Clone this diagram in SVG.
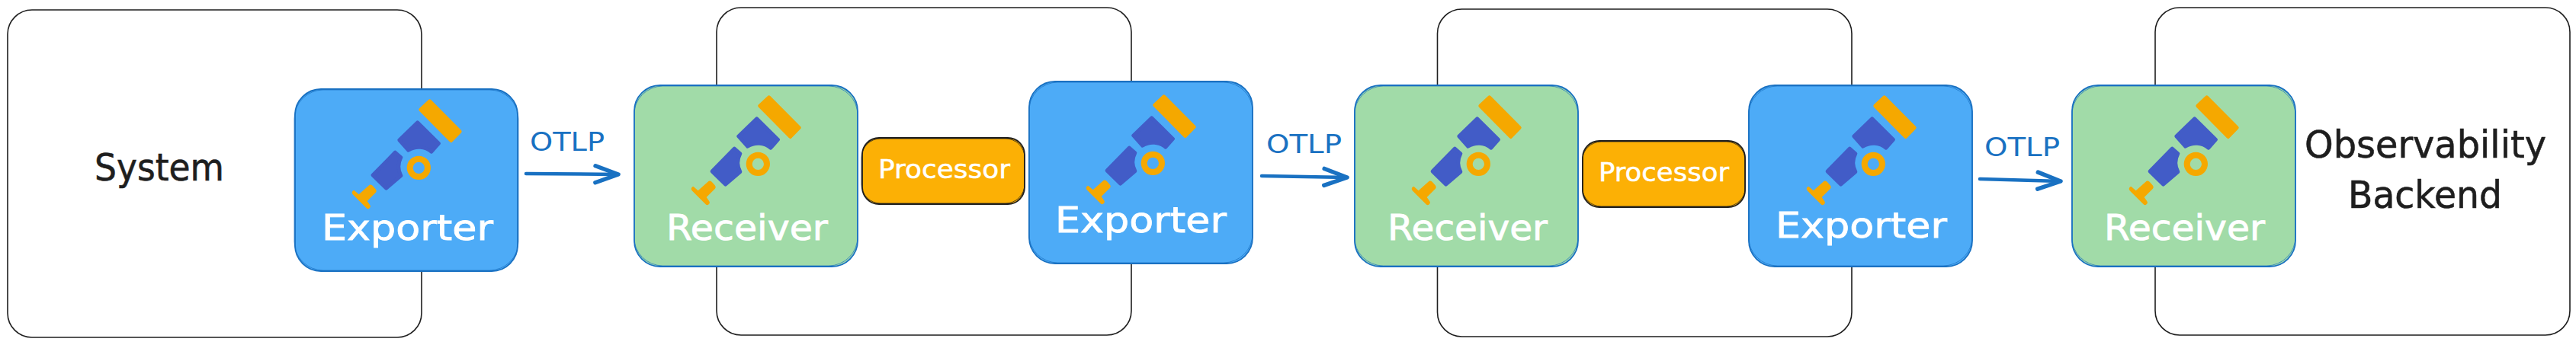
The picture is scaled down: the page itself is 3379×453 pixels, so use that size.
<svg xmlns="http://www.w3.org/2000/svg" xmlns:xlink="http://www.w3.org/1999/xlink" width="3379" height="453" viewBox="0 0 3379 453">
<style>
.outer{fill:#fff;stroke:#1e1e1e;stroke-width:1.6}
.sk{fill:none;stroke-width:1}
.exp{fill:#4dabf7;stroke:#1971c2;stroke-width:1.8}
.rec{fill:#a1dba8;stroke:#1971c2;stroke-width:1.8}
.skb{stroke:#1971c2;opacity:.7}
.skd{stroke:#1e1e1e;opacity:.75}
.proc{fill:#fcb005;stroke:#1e1e1e;stroke-width:1.8}
text{font-family:"DejaVu Sans","Liberation Sans",sans-serif}
.w{fill:#fff;font-size:47px;stroke:#fff;stroke-width:.8}
.p{fill:#fff;font-size:34px;stroke:#fff;stroke-width:.5}
.d{fill:#1e1e1e;font-size:49px;stroke:#1e1e1e;stroke-width:.6}
.o{fill:#1971c2;font-size:34px}
.conn{fill:none;stroke:#1971c2;stroke-width:4.5;stroke-linecap:round}
.io{fill:#f5a800;stroke:#f5a800;stroke-width:14;stroke-linejoin:round}
.ib{fill:#425cc7;stroke:#425cc7;stroke-width:14;stroke-linejoin:round}
</style>
<defs>
<marker id="head" markerUnits="userSpaceOnUse" markerWidth="40" markerHeight="32" refX="33" refY="15" orient="auto" overflow="visible">
<path d="M3 4 L33 15 L3 26" fill="none" stroke="#1971c2" stroke-width="5.5" stroke-linecap="round" stroke-linejoin="round"/>
</marker>
<g id="icon" transform="scale(.33333) translate(-246,-90)">
<path class="io" d="M551 98 L670 218 L635 254 L515 132 Z"/>
<path class="ib" d="M503 182 L587 265 L558 298 A78 78 0 0 0 467 292 L431 252 Z"/>
<path class="ib" d="M415 300 L438 320 A78 78 0 0 0 438 392 L380 442 L327 390 Z"/>
<circle cx="508" cy="361" r="35" fill="none" stroke="#f5a800" stroke-width="24"/>
<path d="M254 450 L272 466 L314 428 Q320 426 326 431 L338 445 Q344 452 338 459 L305 492 L316 508 Q320 515 314 520 Q308 526 302 520 L248 466 Q243 460 247 454 Q250 449 254 450 Z" fill="#f5a800"/>
</g>
</defs>
<rect width="3379" height="453" fill="#fff"/>

<g id="system"><rect class="outer" x="10" y="13" width="543" height="430" rx="32"/></g>
<g id="collector-1"><rect class="outer" x="940" y="10" width="544" height="430" rx="32"/></g>
<g id="collector-2"><rect class="outer" x="1885.5" y="12" width="543.5" height="430" rx="32"/></g>
<g id="backend"><rect class="outer" x="2827" y="10" width="544" height="430" rx="32"/></g>

<g id="connectors">
<path class="conn" d="M690 228 L811 229" marker-end="url(#head)"/>
<path class="conn" d="M1655 231 L1767 233" marker-end="url(#head)"/>
<path class="conn" d="M2597 235 L2703 238" marker-end="url(#head)"/>
</g>

<g id="labels">
<text class="o" x="695" y="198" textLength="98" lengthAdjust="spacingAndGlyphs">OTLP</text>
<text class="o" x="1661" y="201" textLength="99" lengthAdjust="spacingAndGlyphs">OTLP</text>
<text class="o" x="2603" y="205" textLength="99" lengthAdjust="spacingAndGlyphs">OTLP</text>
<text class="d" x="124" y="237" textLength="170" lengthAdjust="spacingAndGlyphs">System</text>
<text class="d" x="3023" y="207" textLength="317" lengthAdjust="spacingAndGlyphs">Observability</text>
<text class="d" x="3080" y="273" textLength="202" lengthAdjust="spacingAndGlyphs">Backend</text>
</g>

<g id="exporter-1">
<rect class="exp" x="387" y="117" width="292" height="239" rx="34"/>
<rect class="sk skb" x="386" y="118" width="294" height="237" rx="38"/>
<use xlink:href="#icon" href="#icon" x="462" y="130"/>
<text class="w" x="422" y="315" textLength="225" lengthAdjust="spacingAndGlyphs">Exporter</text>
</g>
<g id="receiver-1">
<rect class="rec" x="832" y="112" width="293" height="238" rx="34"/>
<rect class="sk skb" x="831.5" y="113" width="293.5" height="236" rx="38"/>
<use xlink:href="#icon" href="#icon" x="907" y="125"/>
<text class="w" x="874" y="315" textLength="212" lengthAdjust="spacingAndGlyphs">Receiver</text>
</g>
<g id="processor-1">
<rect class="proc" x="1131" y="181" width="213" height="87" rx="22"/>
<rect class="sk skd" x="1130" y="182" width="214" height="85" rx="25"/>
<text class="p" x="1152" y="234" textLength="173" lengthAdjust="spacingAndGlyphs">Processor</text>
</g>
<g id="exporter-2">
<rect class="exp" x="1350" y="107" width="293" height="239" rx="34"/>
<rect class="sk skb" x="1349.5" y="108" width="293.5" height="237" rx="38"/>
<use xlink:href="#icon" href="#icon" x="1425" y="124"/>
<text class="w" x="1384" y="305" textLength="225" lengthAdjust="spacingAndGlyphs">Exporter</text>
</g>
<g id="receiver-2">
<rect class="rec" x="1777" y="112" width="293" height="238" rx="34"/>
<rect class="sk skb" x="1776.5" y="113" width="293.5" height="236" rx="38"/>
<use xlink:href="#icon" href="#icon" x="1852" y="125"/>
<text class="w" x="1820" y="315" textLength="210" lengthAdjust="spacingAndGlyphs">Receiver</text>
</g>
<g id="processor-2">
<rect class="proc" x="2076" y="185" width="213" height="87" rx="22"/>
<rect class="sk skd" x="2075.5" y="186" width="214" height="85" rx="25"/>
<text class="p" x="2097" y="238" textLength="171" lengthAdjust="spacingAndGlyphs">Processor</text>
</g>
<g id="exporter-3">
<rect class="exp" x="2294" y="112" width="293" height="238" rx="34"/>
<rect class="sk skb" x="2293.5" y="113" width="293.5" height="236" rx="38"/>
<use xlink:href="#icon" href="#icon" x="2370" y="125"/>
<text class="w" x="2329" y="312" textLength="225" lengthAdjust="spacingAndGlyphs">Exporter</text>
</g>
<g id="receiver-3">
<rect class="rec" x="2718" y="112" width="293" height="238" rx="34"/>
<rect class="sk skb" x="2717.5" y="113" width="293.5" height="236" rx="38"/>
<use xlink:href="#icon" href="#icon" x="2793" y="125"/>
<text class="w" x="2760" y="315" textLength="211" lengthAdjust="spacingAndGlyphs">Receiver</text>
</g>
</svg>
